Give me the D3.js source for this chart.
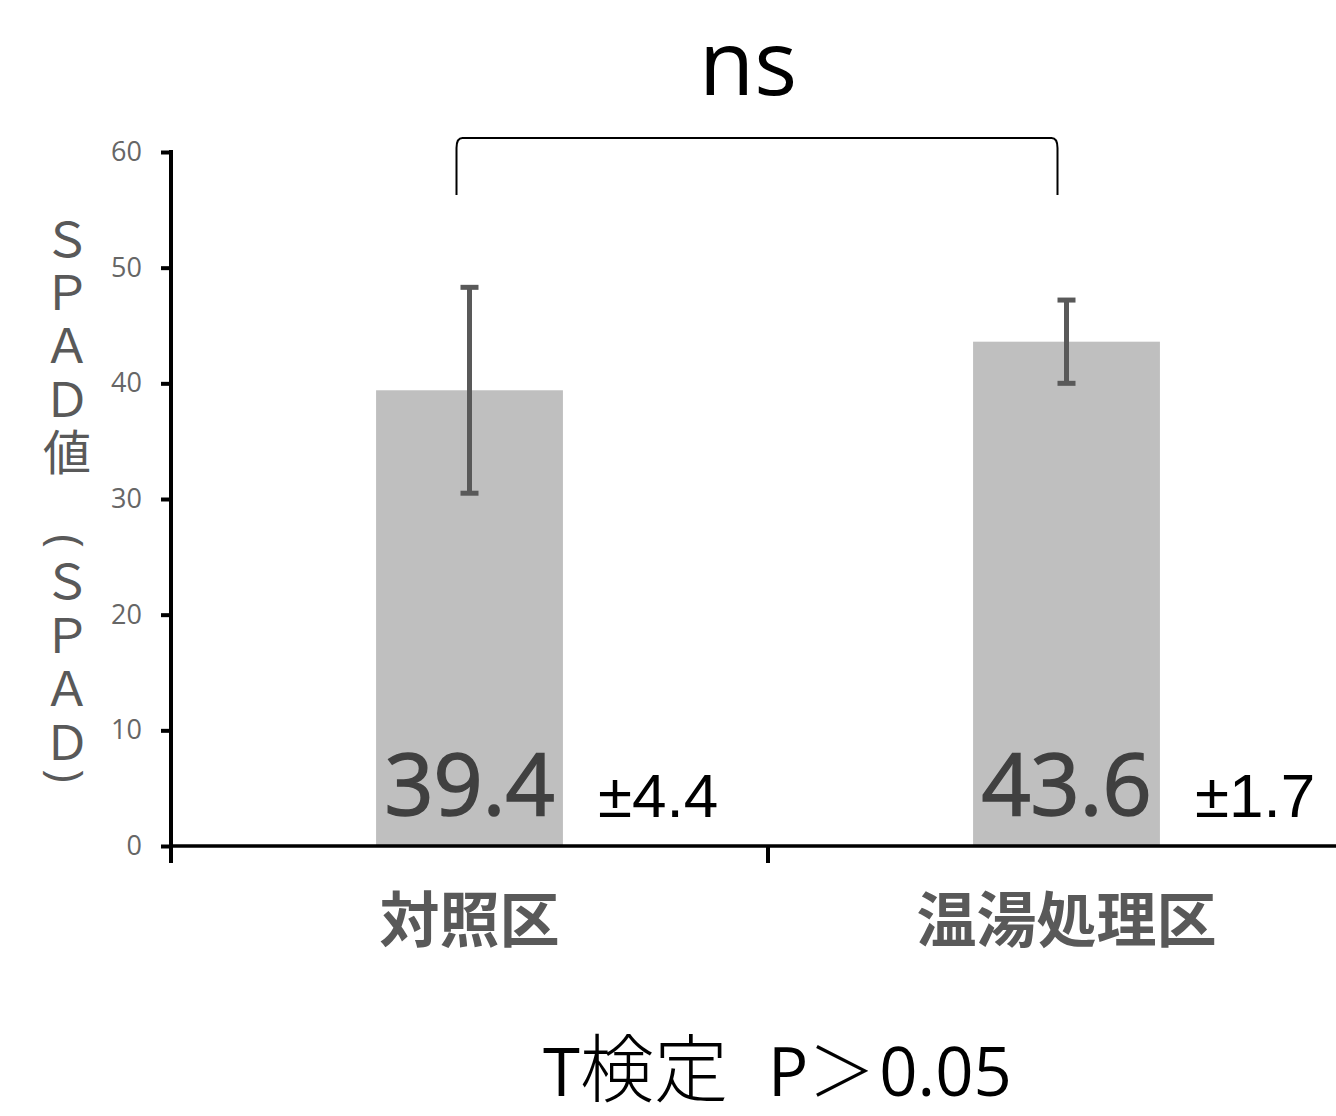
<!DOCTYPE html>
<html><head><meta charset="utf-8">
<script src="https://cdn.jsdelivr.net/npm/d3@7"></script>
<style>html,body{margin:0;padding:0;background:#fff;}</style>
</head><body>
<svg id="chart" width="1336" height="1116"></svg>
<script>
// ---- data ----
const categories = ["対照区", "温湯処理区"];
const means = [39.4, 43.6];
const meanLabels = ["39.4", "43.6"];
const seLabels = ["±4.4", "±1.7"];
const errHalf = [8.9, 3.6];        // drawn error-bar half length (as in picture)
const yTicks = [0, 10, 20, 30, 40, 50, 60];
const yAxisLabel1 = ["Ｓ", "Ｐ", "Ａ", "Ｄ", "値"];
const yAxisLabel2 = ["Ｓ", "Ｐ", "Ａ", "Ｄ"];
const sigLabel = "ns";
const testNote = ["T", "検定", "P", "＞", "0.05"];

const svg = d3.select("#chart");
svg.append("rect").attr("width", 1336).attr("height", 1116).attr("fill", "#fff");

const pLeft = 171, pBottom = 846, pTop = 152;
const y = d3.scaleLinear().domain([0, 60]).range([pBottom, pTop]);
const x = d3.scaleBand().domain(categories).range([pLeft, 1365])
  .paddingInner(0.687).paddingOuter(0.3435);
const step = x.step();

// bars
svg.selectAll("rect.bar").data(categories).join("rect")
  .attr("class", "bar")
  .attr("x", d => x(d))
  .attr("width", x.bandwidth())
  .attr("y", (d, i) => y(means[i]))
  .attr("height", (d, i) => y(0) - y(means[i]))
  .attr("fill", "#bfbfbf");

// error bars
const eg = svg.append("g").attr("stroke", "#595959").attr("stroke-width", 5);
categories.forEach((c, i) => {
  const cx = x(c) + x.bandwidth() / 2;
  const y1 = y(means[i] + errHalf[i]), y2 = y(means[i] - errHalf[i]);
  eg.append("line").attr("x1", cx).attr("x2", cx).attr("y1", y1).attr("y2", y2);
  eg.append("line").attr("x1", cx - 9).attr("x2", cx + 9).attr("y1", y1).attr("y2", y1);
  eg.append("line").attr("x1", cx - 9).attr("x2", cx + 9).attr("y1", y2).attr("y2", y2);
});

// value labels inside bars
svg.selectAll("text.val").data(categories).join("text")
  .attr("class", "val")
  .attr("x", d => x(d) + x.bandwidth() / 2)
  .attr("y", pBottom - 31)
  .attr("text-anchor", "middle")
  .attr("font-family", "'Open Sans', sans-serif")
  .attr("font-weight", 400)
  .attr("font-size", 86)
  .attr("fill", "#404040")
  .attr("stroke", "#404040")
  .attr("stroke-width", 1.6)
  .text((d, i) => meanLabels[i]);

svg.selectAll("text.se").data(categories).join("text")
  .attr("class", "se")
  .attr("x", d => x(d) + x.bandwidth() + 35)
  .attr("y", pBottom - 29)
  .attr("font-family", "'Liberation Sans', Arial, sans-serif")
  .attr("font-size", 62)
  .attr("fill", "#000")
  .text((d, i) => seLabels[i]);

// y axis
const yAxis = d3.axisLeft(y).tickValues(yTicks).tickSize(10).tickSizeOuter(0).tickPadding(19);
const yg = svg.append("g").attr("transform", `translate(${pLeft},0)`).call(yAxis);
yg.select(".domain").attr("stroke", "#000").attr("stroke-width", 4)
  .attr("d", `M0,${pTop - 2}V${pBottom + 17}`);
yg.selectAll(".tick line").attr("stroke", "#000").attr("stroke-width", 4);
yg.selectAll(".tick text").attr("font-family", "'Open Sans', sans-serif")
  .attr("font-size", 27).attr("fill", "#666");

// x axis
const xg = svg.append("g");
xg.append("line").attr("x1", pLeft).attr("x2", 1365).attr("y1", pBottom).attr("y2", pBottom)
  .attr("stroke", "#000").attr("stroke-width", 3.5);
d3.range(categories.length + 1).forEach(i => {
  const bx = pLeft + i * step;
  xg.append("line").attr("x1", bx).attr("x2", bx).attr("y1", pBottom).attr("y2", pBottom + 17)
    .attr("stroke", "#000").attr("stroke-width", 4);
});
svg.selectAll("text.cat").data(categories).join("text")
  .attr("class", "cat")
  .attr("x", d => x(d) + x.bandwidth() / 2)
  .attr("y", 942)
  .attr("text-anchor", "middle")
  .attr("font-family", "'Noto Sans CJK JP', sans-serif")
  .attr("font-weight", 700)
  .attr("font-size", 60)
  .attr("fill", "#595959")
  .text(d => d);

// y axis label (vertical, stacked) – one text element with tspans
const lab = svg.append("text").attr("font-family", "'Noto Sans CJK JP', sans-serif")
  .attr("font-size", 48).attr("fill", "#595959").attr("text-anchor", "middle")
  .attr("x", 67).attr("y", 240).attr("dy", "0.35em");
yAxisLabel1.forEach((ch, i) => {
  lab.append("tspan").attr("x", 67).attr("y", 240 + i * 53.3).attr("dy", "0.35em").text(ch);
});
yAxisLabel2.forEach((ch, i) => {
  lab.append("tspan").attr("x", 67).attr("y", 582 + i * 53.7).attr("dy", "0.35em").text(ch);
});
const parens = svg.append("g").attr("font-family", "'Open Sans', sans-serif")
  .attr("font-size", 46).attr("fill", "#595959").attr("text-anchor", "middle");
parens.append("text").attr("transform", "translate(66,541) rotate(90)").attr("dy", "0.35em").text("(");
parens.append("text").attr("transform", "translate(66,776) rotate(90)").attr("dy", "0.35em").text(")");

// significance bracket
const lx = x(categories[0]) + x.bandwidth() / 2 - 13;
const rx = x(categories[1]) + x.bandwidth() / 2 - 9;
const bTop = 138, bBot = 195;
svg.append("path")
  .attr("d", `M${lx},${bBot} L${lx},${bTop + 10} Q${lx},${bTop} ${lx + 6},${bTop} L${rx - 6},${bTop} Q${rx},${bTop} ${rx},${bTop + 10} L${rx},${bBot}`)
  .attr("fill", "none").attr("stroke", "#000").attr("stroke-width", 2);
svg.append("text").attr("x", 748).attr("y", 95).attr("text-anchor", "middle")
  .attr("font-family", "'Open Sans', sans-serif").attr("font-size", 90).attr("fill", "#000")
  .text(sigLabel);

// test note
const tn = svg.append("text").attr("x", 543).attr("y", 1096)
  .attr("font-family", "'Open Sans', 'Noto Sans CJK JP', sans-serif")
  .attr("font-size", 67).attr("fill", "#000");
testNote.forEach((t, i) => {
  const sp = tn.append("tspan").text(t);
  if (i === 1) sp.attr("font-family", "'Noto Sans CJK JP', sans-serif").attr("font-size", 74).attr("font-weight", 300);
  if (i === 2) sp.attr("dx", 40);
  if (i === 3) sp.attr("font-family", "'Noto Sans CJK JP', sans-serif").attr("font-weight", 300);
  if (i === 4) sp.attr("dx", 4);
});
</script>
</body></html>
